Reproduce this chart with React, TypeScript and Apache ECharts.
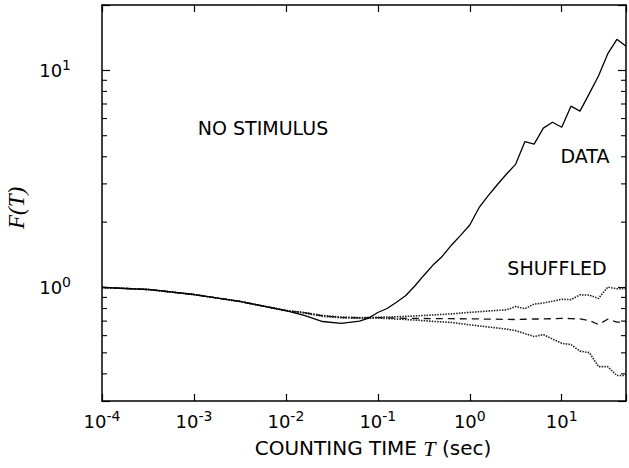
import React, { useEffect, useRef } from "react";
import * as echarts from "echarts";

const X_MIN = 0.0001;
const X_MAX = 50;
const Y_MIN = 0.3;
const Y_MAX = 20;

// Counting times (sec) for the DATA curve
const T_DATA = [
  0.0001, 0.000316, 0.001, 0.00316, 0.01, 0.0158, 0.0251, 0.0398, 0.0631, 0.0794,
  0.1, 0.126, 0.158, 0.2, 0.251, 0.316, 0.398, 0.501, 0.631, 0.794,
  1, 1.26, 1.58, 2, 2.51, 3.16, 3.98, 5.01, 6.31, 7.94,
  10, 12.6, 15.8, 20, 25.1, 31.6, 39.8, 50,
];
const F_DATA = [
  1.0, 0.979, 0.928, 0.862, 0.783, 0.743, 0.697, 0.684, 0.7, 0.723,
  0.767, 0.8, 0.853, 0.916, 1.013, 1.136, 1.268, 1.39, 1.566, 1.738,
  1.94, 2.33, 2.64, 2.98, 3.33, 3.7, 4.7, 4.57, 5.42, 5.77,
  5.47, 6.84, 6.49, 7.83, 9.42, 11.9, 13.9, 12.9,
];

// Counting times (sec) for the SHUFFLED curves
const T_SHUF = [
  0.0001, 0.000316, 0.001, 0.00316, 0.01, 0.0158, 0.0251, 0.0398, 0.0631,
  0.1, 0.158, 0.251, 0.398, 0.631, 1, 1.58, 2.51, 3.16, 3.98, 5.01,
  6.31, 7.94, 10, 12.6, 15.8, 20, 25.1, 31.6, 39.8, 50,
];
const F_SHUF_HIGH = [
  1.0, 0.979, 0.928, 0.862, 0.783, 0.767, 0.743, 0.731, 0.727,
  0.729, 0.733, 0.739, 0.747, 0.756, 0.768, 0.779, 0.789, 0.817, 0.798, 0.839,
  0.848, 0.864, 0.882, 0.879, 0.925, 0.922, 0.89, 1.003, 0.986, 0.986,
];
const F_SHUF_MEAN = [
  1.0, 0.979, 0.928, 0.862, 0.783, 0.765, 0.74, 0.728, 0.724,
  0.726, 0.723, 0.72, 0.719, 0.718, 0.717, 0.715, 0.713, 0.712, 0.714, 0.716,
  0.716, 0.718, 0.721, 0.719, 0.716, 0.704, 0.675, 0.714, 0.692, 0.692,
];
const F_SHUF_LOW = [
  1.0, 0.979, 0.928, 0.862, 0.783, 0.763, 0.737, 0.725, 0.721,
  0.723, 0.716, 0.708, 0.698, 0.69, 0.673, 0.658, 0.643, 0.633, 0.613, 0.594,
  0.607, 0.579, 0.553, 0.546, 0.509, 0.501, 0.432, 0.432, 0.393, 0.393,
];

const Y_MINOR_TICKS = [0.4, 0.5, 0.6, 0.7, 0.8, 0.9, 2, 3, 4, 5, 6, 7, 8, 9];

const SANS = '"DejaVu Sans", "Liberation Sans", sans-serif';
const SERIF = '"Liberation Serif", "DejaVu Serif", serif';

const zip = (xs: number[], ys: number[]) => xs.map((x, i) => [x, ys[i]]);

function powLabel(v: number): string {
  const e = Math.log10(v);
  const r = Math.round(e);
  if (Math.abs(e - r) > 1e-6) return "";
  return `{b|10}{s|${r}}`;
}

const labelRich = {
  b: { fontSize: 18, lineHeight: 24, fontFamily: SANS, color: "#000" },
  s: { fontSize: 14, lineHeight: 14, fontFamily: SANS, color: "#000", verticalAlign: "top" },
};

export default function App() {
  const ref = useRef<HTMLDivElement>(null);

  useEffect(() => {
    document.body.style.margin = "0";
    const chart = echarts.init(ref.current!, null, { renderer: "svg" });
    const axisLine = { show: true, lineStyle: { color: "#000", width: 1.5 } };
    const option: any = {
      animation: false,
      backgroundColor: "#fff",
      grid: { left: 102, right: 3, top: 5, bottom: 67, containLabel: false, outerBoundsMode: "none" },
      xAxis: [
        {
          type: "log",
          logBase: 10,
          min: X_MIN,
          max: X_MAX,
          position: "bottom",
          axisLine,
          axisTick: { show: true, inside: true, length: 7, lineStyle: { color: "#000", width: 1.2 } },
          axisLabel: { show: true, margin: 8, formatter: powLabel, rich: labelRich },
          splitLine: { show: false },
          name: "{a|COUNTING TIME }{t|T}{a| (sec)}",
          nameLocation: "middle",
          nameGap: 35,
          nameTextStyle: {
            padding: [0, 0, 0, 18],
            rich: {
              a: { fontSize: 20, lineHeight: 24, fontFamily: SANS, color: "#000" },
              t: { fontSize: 22, lineHeight: 24, fontFamily: SERIF, fontStyle: "italic", color: "#000" },
            },
          },
        },
        {
          type: "log",
          logBase: 10,
          min: X_MIN,
          max: X_MAX,
          position: "top",
          axisLine,
          axisTick: { show: true, inside: true, length: 7, lineStyle: { color: "#000", width: 1.2 } },
          axisLabel: { show: false },
          splitLine: { show: false },
        },
      ],
      yAxis: [
        {
          type: "log",
          logBase: 10,
          min: Y_MIN,
          max: Y_MAX,
          position: "left",
          axisLine,
          axisTick: { show: true, inside: true, length: 8, lineStyle: { color: "#000", width: 1.2 } },
          axisLabel: { show: true, margin: 31, formatter: powLabel, rich: labelRich },
          splitLine: { show: false },
          name: "F(T)",
          nameLocation: "middle",
          nameGap: 54,
          nameRotate: 90,
          nameTextStyle: {
            fontSize: 23,
            fontFamily: SERIF,
            fontStyle: "italic",
            color: "#000",
            padding: [0, 10, 0, 0],
          },
        },
        {
          type: "log",
          logBase: 10,
          min: Y_MIN,
          max: Y_MAX,
          position: "right",
          axisLine,
          axisTick: { show: true, inside: true, length: 8, lineStyle: { color: "#000", width: 1.2 } },
          axisLabel: { show: false },
          splitLine: { show: false },
        },
      ],
      series: [
        {
          name: "DATA",
          type: "line",
          data: zip(T_DATA, F_DATA),
          showSymbol: false,
          symbol: "none",
          lineStyle: { color: "#000", width: 1.3, type: "solid" },
          z: 5,
        },
        {
          name: "SHUFFLED high",
          type: "line",
          data: zip(T_SHUF, F_SHUF_HIGH),
          symbol: "none",
          lineStyle: { color: "#222", width: 1.6, type: [1.5, 1.2] },
        },
        {
          name: "SHUFFLED mean",
          type: "line",
          data: zip(T_SHUF, F_SHUF_MEAN),
          symbol: "none",
          lineStyle: { color: "#111", width: 1.3, type: [7, 5] },
        },
        {
          name: "SHUFFLED low",
          type: "line",
          data: zip(T_SHUF, F_SHUF_LOW),
          symbol: "none",
          lineStyle: { color: "#222", width: 1.6, type: [1.5, 1.2] },
        },
        {
          name: "minor ticks",
          type: "custom",
          silent: true,
          clip: false,
          data: Y_MINOR_TICKS.map((v) => [X_MIN, v]),
          renderItem: (params: any, api: any) => {
            const v = api.value(1);
            const l = api.coord([X_MIN, v]);
            const r = api.coord([X_MAX, v]);
            const st = { stroke: "#000", lineWidth: 1.1 };
            return {
              type: "group",
              children: [
                { type: "line", shape: { x1: l[0], y1: l[1], x2: l[0] + 5, y2: l[1] }, style: st },
                { type: "line", shape: { x1: r[0], y1: r[1], x2: r[0] - 5, y2: r[1] }, style: st },
              ],
            };
          },
        },
      ],
      graphic: [
        {
          type: "text",
          x: 263,
          y: 128,
          style: { text: "NO STIMULUS", font: `19px ${SANS}`, fill: "#000", align: "center", verticalAlign: "middle" },
        },
        {
          type: "text",
          x: 585,
          y: 156,
          style: { text: "DATA", font: `19px ${SANS}`, fill: "#000", align: "center", verticalAlign: "middle" },
        },
        {
          type: "text",
          x: 557,
          y: 268,
          style: { text: "SHUFFLED", font: `19px ${SANS}`, fill: "#000", align: "center", verticalAlign: "middle" },
        },
      ],
    };
    chart.setOption(option);
    return () => chart.dispose();
  }, []);

  return (
    <div
      ref={ref}
      style={{ position: "fixed", left: 0, top: 0, width: 629, height: 468, background: "#fff" }}
    />
  );
}
